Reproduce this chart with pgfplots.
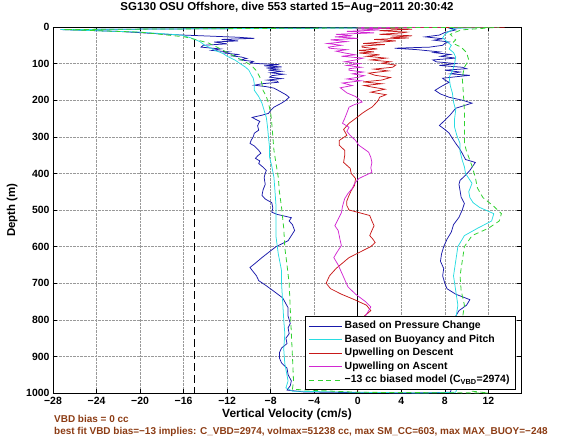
\documentclass[border=0pt]{standalone}
\usepackage{fontspec}
\setmainfont{Liberation Sans}
\usepackage{pgfplots}
\pgfplotsset{compat=1.18}
\definecolor{cblue}{RGB}{25,25,170}
\definecolor{ccyan}{RGB}{40,220,225}
\definecolor{cred}{RGB}{200,25,25}
\definecolor{cmag}{RGB}{210,40,210}
\definecolor{cgreen}{RGB}{50,210,50}
\definecolor{cbrown}{RGB}{140,60,20}
\begin{document}
\begin{tikzpicture}
\useasboundingbox (0,0) rectangle (570bp,440bp);
\begin{axis}[
  scale only axis, width=468bp, height=366bp,
  at={(53bp,47bp)}, anchor=south west,
  xmin=-28, xmax=15, ymin=0, ymax=1000, y dir=reverse,
  xtick={-28,-24,-20,-16,-12,-8,-4,0,4,8,12},
  xticklabels={−28,−24,−20,−16,−12,−8,−4,0,4,8,12},
  ytick={0,100,200,300,400,500,600,700,800,900,1000},
  yticklabels={0,100,200,300,400,500,600,700,800,900,1000},
  grid=major, grid style={densely dotted, gray!80, line width=0.6bp},
  tick align=inside, tick pos=both, major tick length=4bp,
  axis line style={line width=0.8bp},
  tick style={line width=0.6bp, black},
  ticklabel style={font=\bfseries\fontsize{10.5}{12}\selectfont},
  xticklabel style={yshift=-1bp},
  title={SG130 OSU Offshore, dive 553 started 15−Aug−2011 20:30:42},
  title style={at={(axis description cs:0.5,1.0355)}, anchor=center, font=\bfseries\fontsize{11.5}{13}\selectfont},
  xlabel={Vertical Velocity (cm/s)},
  xlabel style={at={(axis description cs:0.5,-0.058)}, anchor=center, font=\bfseries\fontsize{12}{14}\selectfont},
  ylabel={Depth (m)},
  ylabel style={at={(axis description cs:-0.087,0.5)}, anchor=center, rotate=0, font=\bfseries\fontsize{11.5}{13}\selectfont},
  legend cell align=left,
  legend image code/.code={\draw[#1] (0bp,0bp) -- (33bp,0bp);},
  legend style={at={(0.989,0.008)}, anchor=south east, draw=black, line width=0.6bp, fill=white,
    font=\bfseries\fontsize{10.5}{12}\selectfont,
    nodes={text height=7.5bp, text depth=2bp, inner sep=2bp},
    inner xsep=4bp, inner ysep=3bp},
]
\addplot[black, dash pattern=on 8bp off 4bp, line width=1bp, forget plot] coordinates {(-15,0) (-15,1000)};
\addplot[black, line width=0.8bp, forget plot] coordinates {(0,0) (0,1000)};

% Based on Pressure Change
\addplot[cblue, line width=0.75bp] table {
12 0.5
-27.3 7
-22 12
-16.9 21
-13.5 25
-11 28
-9.5 31
-12.5 34
-11 38
-13.2 41
-12 46
-14.2 50
-14.4 55
-12.6 60
-13.4 64
-11.8 68
-12.3 71
-11 75
-11.6 79
-10.7 82
-10.2 86
-10.8 90
-9.6 94
-9.9 98
-9.1 100
-7.2 103
-8.6 106
-7.0 109
-8.4 112
-7.3 115
-8.2 118
-7.0 121
-8.0 125
-6.8 129
-7.9 133
-8.1 137
-7.0 141
-8.3 145
-7.4 148
-7.3 151
-8.8 155
-9.5 159
-8.4 163
-7.7 167
-7.2 175
-6.6 185
-6.3 192
-6.6 200
-7.0 208
-7.7 219
-8.0 228
-8.2 236
-8.8 241
-9.7 247
-9.4 252
-9.0 258
-9.1 263
-9.2 270
-9.1 282
-9.5 290
-9.6 300
-9.8 310
-9.9 318
-9.5 325
-9.1 337
-8.9 345
-9.2 352
-9.4 359
-9.0 366
-9.1 373
-8.7 383
-8.4 392
-8.5 400
-8.6 411
-8.5 430
-8.7 445
-8.8 460
-8.5 470
-7.9 480
-7.8 495
-7.9 506
-7.4 512
-6.1 521
-6.3 530
-6.0 540
-5.8 556
-6.1 570
-6.4 584
-7.5 600
-8.2 616
-8.8 630
-9.4 645
-9.9 657
-9.7 665
-9.3 680
-9.1 693
-8.4 707
-7.8 720
-6.9 740
-6.4 767
-6.4 790
-6.2 810
-6.4 822
-6.3 838
-6.6 850
-6.5 865
-7.0 877
-7.2 890
-7.2 904
-7.0 918
-6.5 932
-6.4 950
-6.1 967
-6.2 980
-6.5 992
-5 997
0 999
5 1000
8.5 998
8.6 990
8.4 970
8.2 950
8.6 920
8.3 900
8.0 870
8.4 850
8.1 820
9.0 790
9.3 775
10.0 760
10.3 745
9.0 730
8.2 715
8.0 700
7.8 680
7.9 660
7.6 640
7.7 620
7.9 600
8.2 580
8.6 560
8.8 540
9.3 520
9.6 500
9.8 482
9.5 465
9.4 447
9.3 430
9.4 419
9.9 405
10.3 392
10.8 370
9.9 362
9.6 345
9.3 330
9.0 318
8.6 300
8.4 290
8.0 280
7.5 269
8.0 255
8.5 240
9.0 222
10.5 208
9.6 200
8.4 192
7.6 183
7.1 173
7.7 162
8.4 151
8.0 145
7.8 140
9.0 136
10.3 132
8.5 128
9.4 123
8.0 118
10.0 114
9.6 110
7.5 105
9.0 100
7.2 95
6.9 90
9.0 85
7.6 80
8.5 75
7.0 70
7.5 68
5.5 62
3.4 58
5.5 56
6.6 55
7.8 50
8.0 45
8.4 41
7.0 36
7.8 32
6.2 27
7.5 22
8.0 15
9.0 8
8.4 3
12 1
13 0
};
\addlegendentry{Based on Pressure Change}

% Based on Buoyancy and Pitch
\addplot[ccyan, line width=0.75bp] table {
12 0.5
-27.3 7
-20 14
-16.2 22
-15.3 30
-14.5 40
-14.1 49
-13.6 56
-13.2 63
-12.4 72
-12.0 80
-11.3 90
-10.8 100
-10.3 110
-10.0 118
-9.8 130
-9.6 140
-9.5 155
-9.5 173
-9.1 190
-8.8 208
-8.6 228
-8.4 247
-8.3 270
-8.2 301
-8.1 330
-8.1 356
-7.9 380
-7.7 411
-7.6 450
-7.5 493
-7.5 530
-7.5 575
-7.3 620
-7.0 666
-7.0 701
-6.9 750
-6.8 800
-6.7 838
-6.8 880
-6.7 920
-6.4 967
-6.6 986
-6.0 995
0 998
6 1000
9.0 998
9.2 980
9.0 950
9.1 900
9.3 850
9.0 800
9.2 760
9.0 720
8.8 680
9.0 640
9.2 600
9.8 570
11.0 550
12.3 530
12.5 510
11.2 493
10.6 480
10.3 466
10.2 450
10.5 427
9.9 400
9.8 382
9.6 364
9.4 340
9.4 318
9.1 296
8.9 274
8.9 250
9.0 227
8.8 205
8.7 181
8.5 160
8.4 137
8.7 120
8.9 100
9.0 82
8.8 70
8.4 60
8.6 50
8.2 40
7.8 30
8.0 20
8.5 10
9 3
13 0.5
};
\addlegendentry{Based on Buoyancy and Pitch}

% Upwelling on Descent
\addplot[cred, line width=0.75bp] table {
13.5 0.5
0 2
5 6
2 10
4.5 14
4.1 16
2 20
5 24
3 28
4.7 30
1.5 34
3.5 38
2.2 41
0.5 45
2.5 48
0.4 52
0.4 55
1.8 60
0.1 64
1.5 68
0.1 71
2 76
0.8 80
2.6 85
1.2 90
3.0 95
2.2 99
3.5 104
3.2 110
1.5 115
2.8 120
1.0 126
1.6 132
3.0 138
2.2 145
0.5 150
2.2 155
0.6 160
1.3 164
2.5 170
1.2 178
2.6 185
2.0 192
1.9 200
1.6 210
1.3 219
0.8 228
0.4 236
-0.2 250
-0.8 263
-1.3 280
-1.0 296
-1.7 310
-1.7 323
-1.2 337
-1.2 351
-1.3 370
-0.7 386
-0.6 400
-0.2 414
-0.3 433
-0.6 447
-0.8 460
-1.0 475
-1.0 488
-0.8 500
0.1 507
1.1 515
1.3 530
1.5 543
1.3 556
1.1 570
1.4 580
1.6 589
1.2 600
0.2 615
-0.8 630
-1.4 645
-2.0 660
-2.6 680
-2.9 700
-2.5 715
-1.5 730
-0.3 745
0.8 760
1.2 775
0.6 790
0.2 820
-0.3 860
-0.5 900
-0.2 940
0 980
0 995
};
\addlegendentry{Upwelling on Descent}

% Upwelling on Ascent
\addplot[cmag, line width=0.75bp] table {
8 0
0 1
3 3
-0.2 5
2 8
-1 12
1.5 16
-2 20
-0.5 24
-2.1 27
0 31
-2.5 35
-1 40
-2.8 45
-1.5 50
-2.7 55
-2.6 58
-1.0 62
-2.0 66
-1.2 71
-0.2 76
-1.5 80
0.5 85
-0.2 90
-1.2 95
0.2 100
-1.0 105
0.3 110
-0.8 114
-0.8 118
0.5 123
-0.5 128
0.6 133
0.1 137
-1.0 142
0.3 147
-1.4 153
-0.5 160
-1.6 166
-1.3 173
-1.0 180
-0.2 190
0.1 197
0.4 205
-0.3 212
-0.8 219
-1.0 235
-1.2 250
-1.4 263
-0.8 274
-1.0 285
-0.7 296
-0.2 310
0.1 323
1.0 342
1.2 356
1.3 370
1.2 385
1.3 397
0.1 414
-0.3 428
-0.5 441
-0.9 455
-1.2 469
-1.4 490
-1.5 507
-1.8 525
-2.1 543
-1.8 556
-1.7 570
-1.6 585
-1.5 597
-1.9 615
-2.2 630
-1.8 650
-1.5 670
-1.2 690
-0.9 710
-0.2 730
0.7 750
1.2 765
0.9 780
0.5 800
0.3 850
0.0 900
0.2 950
0.5 990
};
\addlegendentry{Upwelling on Ascent}

% biased model
\addplot[cgreen, line width=0.8bp, dash pattern=on 5bp off 3.5bp] table {
12 0.5
-27.0 7
-20 14
-15.9 27
-14.8 35
-13.7 44
-12.8 57
-11.9 71
-10.8 88
-9.8 104
-9.3 120
-9.0 137
-8.8 155
-8.7 173
-8.4 190
-8.2 208
-8.0 235
-7.9 263
-7.8 300
-7.7 337
-7.5 375
-7.3 411
-7.2 450
-7.0 493
-6.8 550
-6.7 603
-6.5 650
-6.3 701
-6.2 770
-6.1 838
-6.0 900
-5.9 967
-6 990
0 998
12 1000
10.5 995
9.8 980
9.6 950
9.7 900
9.8 850
9.6 800
9.8 760
9.5 720
9.4 680
9.6 640
9.8 600
10.5 570
12.0 550
13.0 530
13.2 510
12.5 490
11.5 466
11.0 440
10.8 411
10.5 380
10.3 364
10.0 340
9.8 318
9.8 280
9.8 227
9.7 180
9.6 137
9.8 110
10.2 90
10.0 70
9.5 55
8.7 44
9.0 35
8.5 20
9.5 8
13 0.5
};
\addlegendentry{−13 cc biased model (C\textsubscript{VBD}=2974)}
\end{axis}
\node[anchor=west, text=cbrown, font=\bfseries\fontsize{10}{12}\selectfont, inner sep=0pt] at (54bp,21bp) {VBD bias = 0 cc};
\node[anchor=west, text=cbrown, font=\bfseries\fontsize{10}{12}\selectfont, inner sep=0pt] at (54bp,8bp) {best fit VBD bias=−13 implies: C\_VBD=2974, volmax=51238 cc, max SM\_CC=603, max MAX\_BUOY=−248};
\end{tikzpicture}
\end{document}
